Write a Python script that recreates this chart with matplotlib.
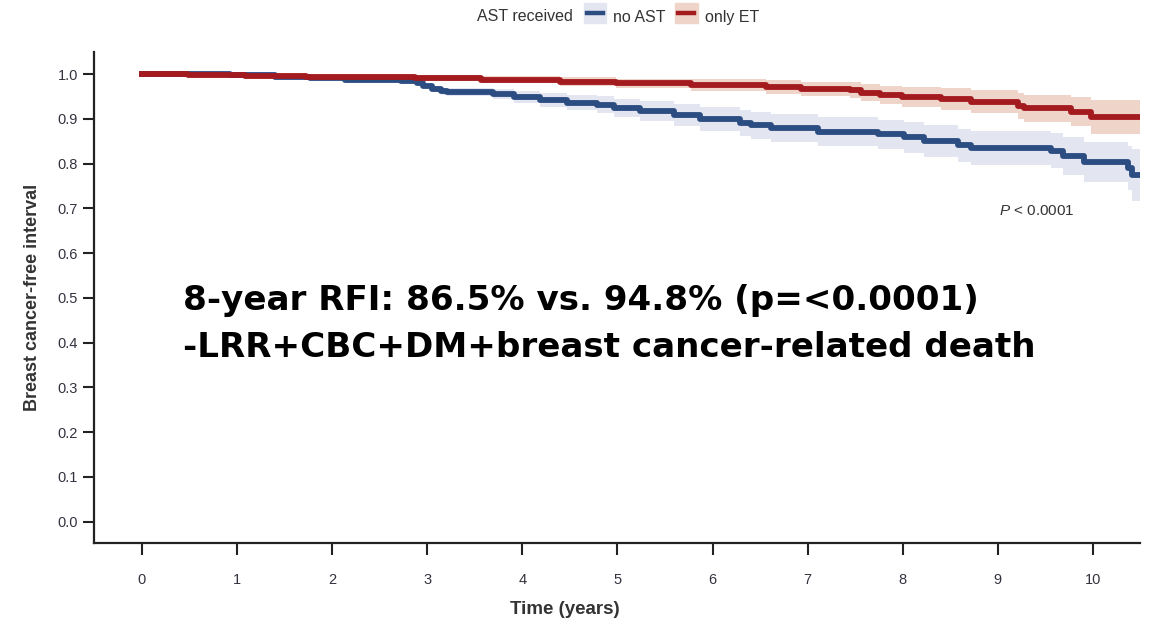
import matplotlib
matplotlib.use("Agg")
import matplotlib.pyplot as plt
from matplotlib.patches import Patch, Rectangle
from matplotlib.lines import Line2D
import numpy as np

plt.rcParams['font.family'] = ['Liberation Sans', 'DejaVu Sans']
plt.rcParams['mathtext.fontset'] = 'custom'
plt.rcParams['mathtext.it'] = 'Liberation Sans:italic'
plt.rcParams['mathtext.rm'] = 'Liberation Sans'

# Kaplan-Meier steps: event times (years), survival, CI half-width
noast_t = [0, 0.93, 1.40, 1.77, 2.14, 2.72, 2.89, 2.96, 3.05, 3.14, 3.21, 3.69, 3.91,
           4.19, 4.47, 4.79, 4.96, 5.24, 5.59, 5.87, 6.29, 6.40, 6.61, 7.11, 7.74,
           8.01, 8.22, 8.58, 8.72, 9.56, 9.69, 9.91, 10.37, 10.41]
noast_s = [1.000, 0.997, 0.993, 0.991, 0.987, 0.984, 0.980, 0.974, 0.967, 0.962, 0.959,
           0.955, 0.949, 0.942, 0.936, 0.932, 0.925, 0.917, 0.908, 0.899, 0.891, 0.886,
           0.879, 0.871, 0.865, 0.859, 0.851, 0.841, 0.834, 0.829, 0.817, 0.804, 0.790, 0.774]
noast_ci = [0.001, 0.002, 0.003, 0.003, 0.004, 0.005, 0.005, 0.006, 0.007, 0.008, 0.009,
            0.011, 0.013, 0.015, 0.017, 0.018, 0.020, 0.022, 0.025, 0.027, 0.029, 0.030,
            0.031, 0.032, 0.033, 0.035, 0.036, 0.037, 0.038, 0.040, 0.042, 0.045, 0.050, 0.058]

et_t = [0, 0.48, 1.08, 1.72, 2.87, 3.56, 4.40, 4.98, 5.77, 6.56, 6.93, 7.45, 7.56, 7.76,
        7.99, 8.40, 8.72, 9.21, 9.27, 9.77, 9.98]
et_s = [1.000, 0.998, 0.996, 0.994, 0.991, 0.987, 0.983, 0.979, 0.976, 0.971, 0.967,
        0.964, 0.958, 0.953, 0.949, 0.944, 0.938, 0.929, 0.924, 0.916, 0.905]
et_ci = [0.002, 0.003, 0.004, 0.005, 0.007, 0.008, 0.010, 0.011, 0.013, 0.015, 0.016,
         0.018, 0.019, 0.020, 0.022, 0.024, 0.026, 0.029, 0.030, 0.033, 0.038]

t_end = 10.49
xticks = list(range(0, 11))
yticks = [round(0.1 * i, 1) for i in range(11)]

blue, blue_band = '#2c4d82', '#e3e6f0'
red, red_band = '#a31a1f', '#efd5c9'

fig = plt.figure(figsize=(11.5, 6.2), dpi=100)
ax = fig.add_axes([0.0817, 0.1242, 0.9092, 0.7924])


def km(t, s, ci, line_c, band_c):
    t = np.append(t, t_end)
    s = np.append(s, s[-1])
    ci = np.append(ci, ci[-1])
    ax.fill_between(t, s - ci, s + ci, step='post', color=band_c, lw=0)
    ax.step(t, s, where='post', color=line_c, lw=4.2)


km(noast_t, noast_s, noast_ci, blue, blue_band)
km(et_t, et_s, et_ci, red, red_band)

ax.set_xlim(-0.505, t_end)
ax.set_ylim(-0.048, 1.05)
ax.set_xticks(xticks)
ax.set_yticks(yticks)
ax.set_yticklabels([f'{v:.1f}' for v in yticks])
for s in ['top', 'right']:
    ax.spines[s].set_visible(False)
for s in ['left', 'bottom']:
    ax.spines[s].set_linewidth(1.6)
    ax.spines[s].set_color('#222222')
ax.tick_params(axis='x', length=8.5, width=1.5, pad=13, labelsize=10.5,
               labelcolor='#333340', color='#222222')
ax.tick_params(axis='y', length=8, width=1.5, pad=3.5, labelsize=10.5,
               labelcolor='#333340', color='#222222')
ax.set_xlabel('Time (years)', fontsize=13.5, fontweight='bold', color='#333333')
ax.xaxis.set_label_coords(0.4505, -0.118)
ax.set_ylabel('Breast cancer-free interval', fontsize=13, fontweight='bold',
              color='#333333', labelpad=12)

ax.text(9.01, 0.685, '$P$ < 0.0001', fontsize=11, color='#333333', va='baseline')


class BandHandler:
    """Shaded square with a short line through the middle."""

    def __init__(self, line_c, band_c):
        self.line_c, self.band_c = line_c, band_c

    def legend_artist(self, legend, orig_handle, fontsize, handlebox):
        x0, y0 = handlebox.xdescent, handlebox.ydescent
        w, h = handlebox.width, handlebox.height
        rect = Rectangle((x0, y0 - 0.2 * h), w, h * 1.4, color=self.band_c,
                         transform=handlebox.get_transform())
        ln = Line2D([x0 + 0.14 * w, x0 + 0.86 * w], [y0 + h / 2, y0 + h / 2],
                    color=self.line_c, lw=3.2, transform=handlebox.get_transform())
        handlebox.add_artist(rect)
        handlebox.add_artist(ln)
        return rect


# legend across the top
fig.text(0.498, 0.973, 'AST received', fontsize=11.5, color='#333333', ha='right', va='center')
h_no = Patch(label='no AST')
h_et = Patch(label='only ET')
fig.legend([h_no, h_et], ['no AST', 'only ET'],
           handler_map={h_no: BandHandler(blue, blue_band), h_et: BandHandler(red, red_band)},
           loc='center left', bbox_to_anchor=(0.495, 0.973), ncol=2, frameon=False,
           fontsize=11.5, handlelength=1.4, handleheight=1.0, handletextpad=0.45,
           columnspacing=0.6, labelcolor='#333333')

# summary annotation
fig.text(0.159, 0.5, '8-year RFI: 86.5% vs. 94.8% (p=<0.0001)', fontsize=24.6,
         fontweight='bold', family='DejaVu Sans', va='baseline')
fig.text(0.159, 0.424, '-LRR+CBC+DM+breast cancer-related death', fontsize=24.6,
         fontweight='bold', family='DejaVu Sans', va='baseline')

fig.savefig('out.png', dpi=100)
